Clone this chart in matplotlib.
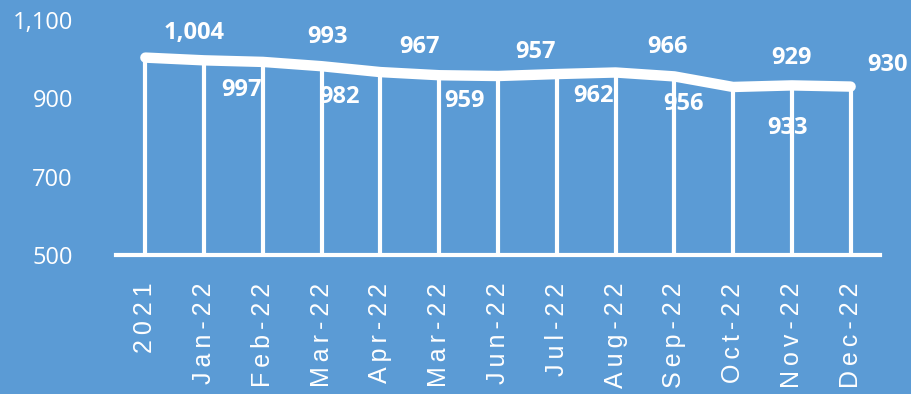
import matplotlib
matplotlib.use("Agg")
import matplotlib.pyplot as plt
from matplotlib.ticker import FuncFormatter

# data
categories = ["2021", "Jan-22", "Feb-22", "Mar-22", "Apr-22", "Mar-22", "Jun-22",
              "Jul-22", "Aug-22", "Sep-22", "Oct-22", "Nov-22", "Dec-22"]
values = [1004, 997, 993, 982, 967, 959, 957, 962, 966, 956, 929, 933, 930]
y_ticks = [500, 700, 900, 1100]

# label offsets (pixels, right / down) as placed in the original
label_dx = [49, 37, 65, 18, 39, 25, 38, 37, 52, 9, 58, -4, 37]
label_dy = [-25, 30, -25, 31, -25, 26, -24, 22, -25, 28, -29, 43, -22]

bg = "#5B9BD5"
fig = plt.figure(figsize=(9.11, 3.94), dpi=100, facecolor=bg)
ax = fig.add_axes([116 / 911, 1 - 255 / 394, 764 / 911, 235 / 394])
ax.set_facecolor(bg)

x = list(range(len(categories)))
ax.vlines(x, 500, values, color="white", lw=3, zorder=2)
ax.plot(x, values, color="white", lw=7.5, solid_capstyle="round",
        solid_joinstyle="round", zorder=3)

px = 72 / 100
for i, v in enumerate(values):
    ax.annotate(f"{v:,}", xy=(i, v), xytext=(label_dx[i] * px, -label_dy[i] * px),
                textcoords="offset points", ha="center", va="center",
                color="white", fontsize=17, fontweight="bold",
                family=["Open Sans", "DejaVu Sans"], zorder=4, annotation_clip=False)

ax.set_xlim(-0.5, len(categories) - 0.5)
ax.set_ylim(500, 1100)
ax.set_yticks(y_ticks)
ax.yaxis.set_major_formatter(FuncFormatter(lambda v, p: f"{int(v):,}"))
ax.set_xticks(x)
spaced = ["\u2009".join(c) for c in categories]
ax.set_xticklabels(spaced, rotation=90, va="top", ha="center",
                   family=["Liberation Sans", "DejaVu Sans"], fontsize=18, color="white")
ax.tick_params(axis="x", length=0, pad=20)
ax.tick_params(axis="y", length=0, pad=31, labelsize=17, labelcolor="white")
for t in ax.get_yticklabels():
    t.set_family(["Open Sans", "DejaVu Sans"])

for s in ["top", "right", "left"]:
    ax.spines[s].set_visible(False)
ax.spines["bottom"].set_color("white")
ax.spines["bottom"].set_linewidth(3)
ax.spines["bottom"].set_zorder(2)

fig.savefig("out.png", dpi=100, facecolor=bg)
